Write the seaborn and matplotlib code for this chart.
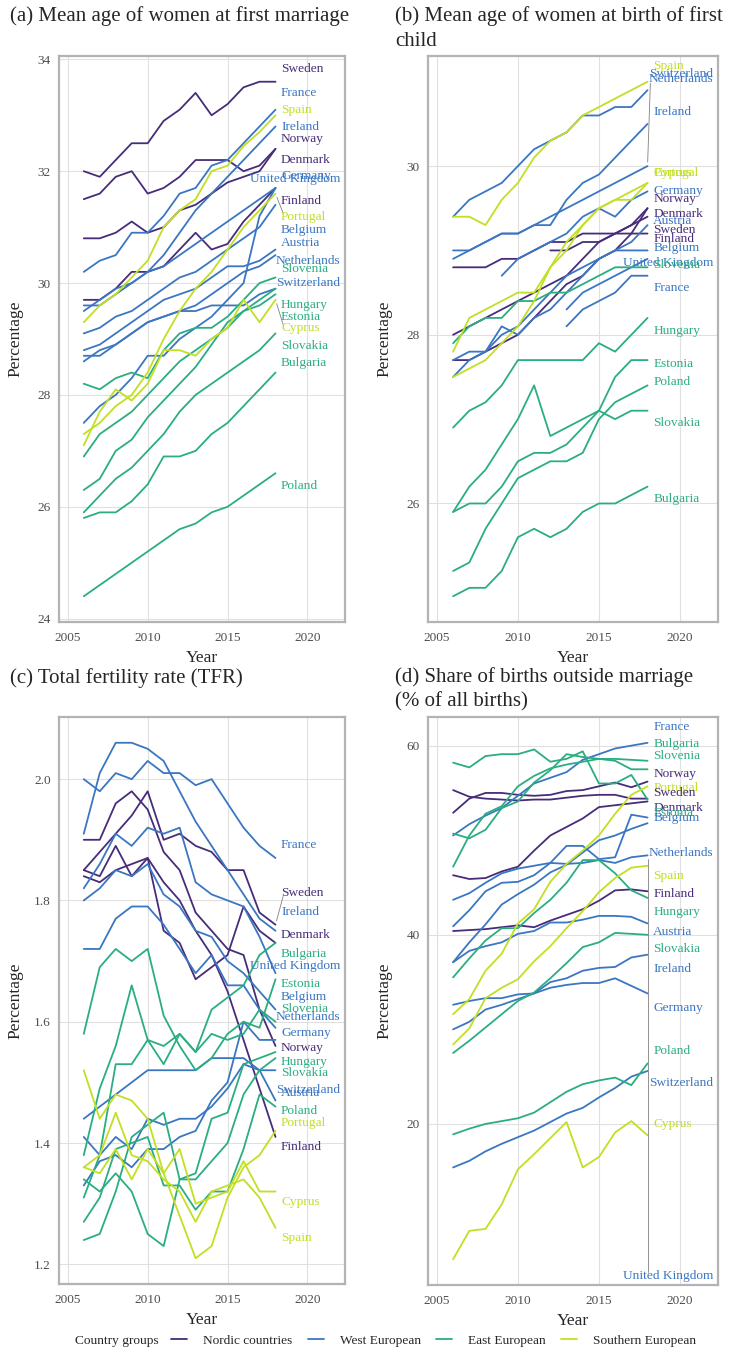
import numpy as np
import pandas as pd
import matplotlib
matplotlib.use("Agg")
import matplotlib.pyplot as plt
import seaborn as sns
from matplotlib.lines import Line2D

# ---------------- data ----------------
years = list(range(2006, 2019))
nan = np.nan

nordic = ["Sweden", "Norway", "Denmark", "Finland"]
west = ["France", "Ireland", "Germany", "United Kingdom", "Belgium", "Austria", "Netherlands", "Switzerland"]
east = ["Slovenia", "Hungary", "Estonia", "Slovakia", "Bulgaria", "Poland"]
south = ["Spain", "Portugal", "Cyprus"]
group_names = ["Nordic countries", "West European", "East European", "Southern European"]
group_colors = ["#472c7a", "#3a76c2", "#2aae80", "#c2df23"]

marriage_age = {
    "Sweden": [32.0, 31.9, 32.2, 32.5, 32.5, 32.9, 33.1, 33.4, 33.0, 33.2, 33.5, 33.6, 33.6],
    "Norway": [30.8, 30.8, 30.9, 31.1, 30.9, 31.0, 31.3, 31.4, 31.6, 31.8, 31.9, 32.0, 32.4],
    "Denmark": [31.5, 31.6, 31.9, 32.0, 31.6, 31.7, 31.9, 32.2, 32.2, 32.2, 32.0, 32.1, 32.4],
    "Finland": [29.7, 29.7, 29.9, 30.2, 30.2, 30.3, 30.6, 30.9, 30.6, 30.7, 31.1, 31.4, 31.7],
    "France": [30.2, 30.4, 30.5, 30.9, 30.9, 31.2, 31.6, 31.7, 32.1, 32.2, 32.5, 32.8, 33.1],
    "Ireland": [29.5, 29.7, 29.9, 30.0, 30.2, 30.5, 30.9, 31.3, 31.6, 31.9, 32.2, 32.5, 32.8],
    "Germany": [29.6, 29.6, 29.8, 30.0, 30.2, 30.3, 30.5, 30.7, 30.9, 31.1, 31.3, 31.5, 31.7],
    "United Kingdom": [27.5, 27.8, 28.0, 28.3, 28.7, 28.7, 29.0, 29.2, 29.4, 29.7, 30.0, 31.2, 31.7],
    "Belgium": [29.1, 29.2, 29.4, 29.5, 29.7, 29.9, 30.1, 30.2, 30.4, 30.6, 30.8, 31.0, 31.4],
    "Austria": [28.8, 28.9, 29.1, 29.3, 29.5, 29.7, 29.8, 29.9, 30.1, 30.3, 30.3, 30.4, 30.6],
    "Netherlands": [28.6, 28.8, 28.9, 29.1, 29.3, 29.4, 29.5, 29.6, 29.8, 30.0, 30.2, 30.3, 30.5],
    "Switzerland": [28.7, 28.7, 28.9, 29.1, 29.3, 29.4, 29.5, 29.5, 29.6, 29.6, 29.6, 29.8, 29.9],
    "Spain": [29.3, 29.6, 29.8, 30.1, 30.4, 31.0, 31.3, 31.5, 32.0, 32.1, 32.45, 32.7, 33.0],
    "Portugal": [27.3, 27.5, 27.8, 28.0, 28.4, 29.0, 29.5, 29.9, 30.2, 30.6, 31.0, 31.3, 31.6],
    "Cyprus": [27.1, 27.7, 28.1, 27.9, 28.2, 28.8, 28.8, 28.7, 29.0, 29.2, 29.7, 29.3, 29.7],
    "Slovenia": [28.2, 28.1, 28.3, 28.4, 28.3, 28.8, 29.1, 29.2, 29.2, 29.4, 29.7, 30.0, 30.1],
    "Hungary": [26.9, 27.3, 27.5, 27.7, 28.0, 28.3, 28.6, 28.8, 29.0, 29.2, 29.5, 29.7, 29.9],
    "Estonia": [26.3, 26.5, 27.0, 27.2, 27.6, 27.9, 28.2, 28.5, 28.9, 29.3, 29.5, 29.6, 29.8],
    "Slovakia": [25.9, 26.2, 26.5, 26.7, 27.0, 27.3, 27.7, 28.0, 28.2, 28.4, 28.6, 28.8, 29.1],
    "Bulgaria": [25.8, 25.9, 25.9, 26.1, 26.4, 26.9, 26.9, 27.0, 27.3, 27.5, 27.8, 28.1, 28.4],
    "Poland": [24.4, 24.6, 24.8, 25.0, 25.2, 25.4, 25.6, 25.7, 25.9, 26.0, 26.2, 26.4, 26.6],
}

birth_age = {
    "Sweden": [28.8, 28.8, 28.8, 28.9, 28.9, 29.0, 29.1, 29.1, 29.2, 29.2, 29.2, 29.3, 29.4],
    "Norway": [27.7, 27.7, 27.8, 27.9, 28.0, 28.2, 28.4, 28.6, 28.7, 28.9, 29.0, 29.2, 29.5],
    "Denmark": [28.0, 28.1, 28.2, 28.3, 28.4, 28.5, 28.6, 28.7, 28.9, 29.1, 29.2, 29.3, 29.5],
    "Finland": [nan, nan, nan, nan, nan, nan, 29.0, 29.0, 29.1, 29.1, 29.2, 29.2, 29.2],
    "France": [nan, nan, nan, nan, nan, nan, nan, 28.1, 28.3, 28.4, 28.5, 28.7, 28.7],
    "Ireland": [29.0, 29.0, 29.1, 29.2, 29.2, 29.3, 29.3, 29.6, 29.8, 29.9, 30.1, 30.3, 30.5],
    "Germany": [nan, nan, nan, 28.7, 28.9, 29.0, 29.1, 29.2, 29.4, 29.5, 29.4, 29.6, 29.7],
    "United Kingdom": [nan, nan, nan, nan, nan, nan, nan, 28.3, 28.5, 28.6, 28.7, 28.8, 28.9],
    "Belgium": [27.5, 27.7, 27.8, 28.0, 28.1, 28.3, 28.5, 28.7, 28.8, 28.9, 29.0, 29.0, 29.0],
    "Austria": [27.7, 27.8, 27.8, 28.1, 28.0, 28.2, 28.3, 28.5, 28.7, 28.9, 29.0, 29.1, 29.3],
    "Netherlands": [28.9, 29.0, 29.1, 29.2, 29.2, 29.3, 29.4, 29.5, 29.6, 29.7, 29.8, 29.9, 30.0],
    "Switzerland": [29.4, 29.6, 29.7, 29.8, 30.0, 30.2, 30.3, 30.4, 30.6, 30.6, 30.7, 30.7, 30.9],
    "Spain": [29.4, 29.4, 29.3, 29.6, 29.8, 30.1, 30.3, 30.4, 30.6, 30.7, 30.8, 30.9, 31.0],
    "Portugal": [27.8, 28.2, 28.3, 28.4, 28.5, 28.5, 28.8, 29.0, 29.3, 29.5, 29.6, 29.6, 29.8],
    "Cyprus": [27.5, 27.6, 27.7, 27.9, 28.1, 28.4, 28.8, 29.1, 29.3, 29.5, 29.6, 29.7, 29.8],
    "Slovenia": [27.9, 28.1, 28.2, 28.2, 28.4, 28.4, 28.5, 28.5, 28.6, 28.7, 28.8, 28.8, 28.8],
    "Hungary": [26.9, 27.1, 27.2, 27.4, 27.7, 27.7, 27.7, 27.7, 27.7, 27.9, 27.8, 28.0, 28.2],
    "Estonia": [25.9, 26.0, 26.0, 26.2, 26.5, 26.6, 26.6, 26.7, 26.9, 27.1, 27.5, 27.7, 27.7],
    "Slovakia": [25.9, 26.2, 26.4, 26.7, 27.0, 27.4, 26.8, 26.9, 27.0, 27.1, 27.0, 27.1, 27.1],
    "Bulgaria": [24.9, 25.0, 25.0, 25.2, 25.6, 25.7, 25.6, 25.7, 25.9, 26.0, 26.0, 26.1, 26.2],
    "Poland": [25.2, 25.3, 25.7, 26.0, 26.3, 26.4, 26.5, 26.5, 26.6, 27.0, 27.2, 27.3, 27.4],
}

tfr = {
    "Sweden": [1.85, 1.88, 1.91, 1.94, 1.98, 1.90, 1.91, 1.89, 1.88, 1.85, 1.85, 1.78, 1.76],
    "Norway": [1.90, 1.90, 1.96, 1.98, 1.95, 1.88, 1.85, 1.78, 1.75, 1.72, 1.71, 1.62, 1.56],
    "Denmark": [1.85, 1.84, 1.89, 1.84, 1.87, 1.75, 1.73, 1.67, 1.69, 1.71, 1.79, 1.75, 1.73],
    "Finland": [1.84, 1.83, 1.85, 1.86, 1.87, 1.83, 1.80, 1.75, 1.71, 1.65, 1.57, 1.49, 1.41],
    "France": [2.00, 1.98, 2.01, 2.00, 2.03, 2.01, 2.01, 1.99, 2.00, 1.96, 1.92, 1.89, 1.87],
    "Ireland": [1.91, 2.01, 2.06, 2.06, 2.05, 2.03, 1.98, 1.93, 1.89, 1.85, 1.81, 1.77, 1.75],
    "United Kingdom": [1.82, 1.86, 1.91, 1.89, 1.92, 1.91, 1.92, 1.83, 1.81, 1.80, 1.79, 1.74, 1.68],
    "Belgium": [1.80, 1.82, 1.85, 1.84, 1.86, 1.81, 1.79, 1.75, 1.74, 1.70, 1.68, 1.65, 1.62],
    "Netherlands": [1.72, 1.72, 1.77, 1.79, 1.79, 1.76, 1.72, 1.68, 1.71, 1.66, 1.66, 1.62, 1.59],
    "Germany": [1.33, 1.37, 1.38, 1.36, 1.39, 1.39, 1.41, 1.42, 1.47, 1.50, 1.60, 1.57, 1.57],
    "Austria": [1.41, 1.38, 1.41, 1.39, 1.44, 1.43, 1.44, 1.44, 1.46, 1.49, 1.53, 1.52, 1.47],
    "Switzerland": [1.44, 1.46, 1.48, 1.50, 1.52, 1.52, 1.52, 1.52, 1.54, 1.54, 1.54, 1.52, 1.52],
    "Bulgaria": [1.38, 1.49, 1.56, 1.66, 1.57, 1.53, 1.58, 1.55, 1.62, 1.64, 1.66, 1.71, 1.73],
    "Estonia": [1.58, 1.69, 1.72, 1.70, 1.72, 1.61, 1.56, 1.52, 1.54, 1.58, 1.60, 1.59, 1.67],
    "Slovenia": [1.31, 1.38, 1.53, 1.53, 1.57, 1.56, 1.58, 1.55, 1.58, 1.57, 1.58, 1.62, 1.60],
    "Hungary": [1.34, 1.32, 1.35, 1.32, 1.25, 1.23, 1.34, 1.35, 1.44, 1.45, 1.53, 1.54, 1.55],
    "Slovakia": [1.24, 1.25, 1.32, 1.41, 1.43, 1.45, 1.34, 1.34, 1.37, 1.40, 1.48, 1.52, 1.54],
    "Poland": [1.27, 1.31, 1.39, 1.40, 1.41, 1.33, 1.33, 1.29, 1.32, 1.32, 1.39, 1.48, 1.46],
    "Spain": [1.36, 1.38, 1.45, 1.38, 1.37, 1.34, 1.32, 1.27, 1.32, 1.33, 1.34, 1.31, 1.26],
    "Portugal": [1.36, 1.35, 1.39, 1.34, 1.39, 1.35, 1.28, 1.21, 1.23, 1.31, 1.36, 1.38, 1.42],
    "Cyprus": [1.52, 1.44, 1.48, 1.47, 1.44, 1.35, 1.39, 1.30, 1.31, 1.32, 1.37, 1.32, 1.32],
}

outside_births = {
    "Sweden": [55.3, 54.6, 54.4, 54.3, 54.2, 54.3, 54.3, 54.5, 54.7, 54.8, 54.8, 54.4, 54.4],
    "Norway": [52.9, 54.4, 55.0, 55.0, 54.8, 54.7, 54.8, 55.2, 55.3, 55.7, 56.1, 55.6, 56.2],
    "Denmark": [46.3, 45.9, 46.0, 46.7, 47.2, 48.9, 50.5, 51.4, 52.3, 53.5, 53.7, 53.9, 54.1],
    "Finland": [40.4, 40.5, 40.6, 40.8, 41.0, 40.8, 41.5, 42.1, 42.7, 43.6, 44.7, 44.8, 44.6],
    "France": [50.5, 51.7, 52.6, 53.4, 54.7, 56.0, 56.6, 57.2, 58.5, 59.1, 59.7, 60.0, 60.3],
    "Belgium": [40.9, 42.6, 44.6, 45.5, 45.6, 46.3, 47.6, 49.4, 49.4, 48.0, 48.2, 52.7, 52.4],
    "Netherlands": [37.1, 39.2, 41.1, 43.2, 44.3, 45.3, 46.6, 47.4, 48.7, 50.0, 50.5, 51.2, 51.8],
    "United Kingdom": [43.7, 44.4, 45.5, 46.5, 47.0, 47.3, 47.6, 47.5, 47.6, 47.9, 47.6, 48.2, 48.4],
    "Germany": [30.0, 30.8, 32.1, 32.6, 33.2, 33.8, 34.4, 34.7, 34.9, 34.9, 35.4, 34.6, 33.8],
    "Ireland": [32.6, 33.0, 33.3, 33.3, 33.7, 33.8, 35.0, 35.4, 36.2, 36.5, 36.6, 37.6, 37.9],
    "Austria": [37.1, 38.3, 38.8, 39.2, 40.1, 40.4, 41.3, 41.3, 41.6, 42.0, 42.0, 41.9, 41.2],
    "Switzerland": [15.4, 16.1, 17.1, 17.9, 18.6, 19.3, 20.2, 21.1, 21.7, 22.8, 23.8, 25.0, 25.6],
    "Bulgaria": [50.7, 50.2, 51.1, 53.4, 54.1, 56.1, 57.4, 59.1, 58.8, 58.6, 58.6, 58.5, 58.4],
    "Estonia": [58.2, 57.7, 58.9, 59.1, 59.1, 59.6, 58.3, 58.6, 59.4, 56.0, 56.0, 56.9, 54.3],
    "Slovenia": [47.2, 50.5, 52.8, 53.6, 55.7, 56.8, 57.6, 58.0, 58.3, 58.6, 58.4, 57.5, 57.5],
    "Hungary": [35.5, 37.5, 39.4, 40.7, 40.7, 42.3, 43.7, 45.5, 47.9, 47.9, 46.5, 44.7, 43.9],
    "Slovakia": [27.5, 28.8, 30.2, 31.6, 33.0, 33.9, 35.4, 37.0, 38.7, 39.2, 40.2, 40.1, 40.0],
    "Poland": [18.9, 19.5, 20.0, 20.3, 20.6, 21.2, 22.3, 23.4, 24.2, 24.6, 24.9, 24.1, 26.4],
    "Spain": [28.4, 30.1, 33.3, 34.4, 35.3, 37.2, 38.8, 40.7, 42.5, 44.5, 46.0, 47.1, 47.3],
    "Portugal": [31.6, 33.2, 36.2, 38.0, 41.2, 42.7, 45.6, 47.5, 48.9, 50.5, 52.8, 54.8, 55.7],
    "Cyprus": [5.7, 8.7, 8.9, 11.5, 15.2, 16.8, 18.5, 20.2, 15.4, 16.5, 19.1, 20.3, 18.8],
}

panel_titles = [
    ["(a) Mean age of women at first marriage"],
    ["(b) Mean age of women at birth of first", "child"],
    ["(c) Total fertility rate (TFR)"],
    ["(d) Share of births outside marriage", "(% of all births)"],
]
y_ticks = [[24, 26, 28, 30, 32, 34], [26, 28, 30], [1.2, 1.4, 1.6, 1.8, 2.0], [20, 40, 60]]
y_ticklabels = [["24", "26", "28", "30", "32", "34"], ["26", "28", "30"],
                ["1.2", "1.4", "1.6", "1.8", "2.0"], ["20", "40", "60"]]
x_ticks = [2005, 2010, 2015, 2020]

# label positions (layout) for the end-of-line country labels
label_pos = [
    {"Sweden": 33.83, "France": 33.39, "Spain": 33.09, "Ireland": 32.79, "Norway": 32.57,
     "Denmark": 32.2, "Germany": 31.92, "United Kingdom": 31.86, "Finland": 31.47,
     "Portugal": 31.18, "Belgium": 30.95, "Austria": 30.71, "Netherlands": 30.39,
     "Slovenia": 30.26, "Switzerland": 30.01, "Hungary": 29.61, "Estonia": 29.4,
     "Cyprus": 29.19, "Slovakia": 28.88, "Bulgaria": 28.57, "Poland": 26.38},
    {"Spain": 31.19, "Switzerland": 31.09, "Netherlands": 31.03, "Ireland": 30.64,
     "Portugal": 29.92, "Cyprus": 29.92, "Germany": 29.71, "Norway": 29.61, "Denmark": 29.43,
     "Austria": 29.35, "Sweden": 29.24, "Finland": 29.14, "Belgium": 29.03,
     "United Kingdom": 28.85, "Slovenia": 28.83, "France": 28.55, "Hungary": 28.05,
     "Estonia": 27.65, "Poland": 27.44, "Slovakia": 26.95, "Bulgaria": 26.05},
    {"France": 1.891, "Sweden": 1.813, "Ireland": 1.781, "Denmark": 1.743, "Bulgaria": 1.711,
     "United Kingdom": 1.692, "Estonia": 1.662, "Belgium": 1.641, "Slovenia": 1.621,
     "Netherlands": 1.608, "Germany": 1.582, "Norway": 1.557, "Hungary": 1.533,
     "Slovakia": 1.516, "Switzerland": 1.488, "Austria": 1.482, "Poland": 1.453,
     "Portugal": 1.433, "Finland": 1.394, "Cyprus": 1.303, "Spain": 1.243},
    {"France": 62.0, "Bulgaria": 60.2, "Slovenia": 58.9, "Norway": 57.0, "Portugal": 55.5,
     "Sweden": 55.0, "Denmark": 53.4, "Estonia": 52.9, "Belgium": 52.3, "Netherlands": 48.6,
     "Spain": 46.2, "Finland": 44.3, "Hungary": 42.4, "Austria": 40.3, "Slovakia": 38.5,
     "Ireland": 36.4, "Germany": 32.3, "Poland": 27.7, "Switzerland": 24.3, "Cyprus": 20.0,
     "United Kingdom": 3.9},
]
leaders = [["Portugal", "Cyprus"], ["Netherlands"], ["Sweden"], ["United Kingdom"]]

# ---------------- long table ----------------
group_of = {}
for g, cs in zip(group_names, [nordic, west, east, south]):
    for c in cs:
        group_of[c] = g
pal = dict(zip(group_names, group_colors))
color_of = {c: pal[group_of[c]] for c in group_of}

metrics = [marriage_age, birth_age, tfr, outside_births]
frames = []
for i, d in enumerate(metrics):
    for c, vals in d.items():
        frames.append(pd.DataFrame({"panel": i, "country": c, "group": group_of[c],
                                    "year": years, "value": vals}))
df = pd.concat(frames, ignore_index=True).dropna()

# ---------------- figure ----------------
sns.set_style("whitegrid")
plt.rcParams["font.family"] = ["Liberation Serif", "DejaVu Serif"]

W, H = 735, 1351
fig = plt.figure(figsize=(W / 100, H / 100), dpi=100)

boxes = [(59, 345, 56, 622), (428, 718, 56, 622), (59, 345, 717, 1284), (428, 718, 717, 1285)]
title_xy = [(10, 16), (395, 16), (10, 678), (395, 677)]
axes = []
for i, (l, r, t, b) in enumerate(boxes):
    ax = fig.add_axes([l / W, 1 - b / H, (r - l) / W, (b - t) / H])
    axes.append(ax)
    sub = df[df.panel == i]
    sns.lineplot(data=sub, x="year", y="value", hue="group", units="country",
                 estimator=None, palette=pal, hue_order=group_names, legend=False,
                 ax=ax, linewidth=1.3, sort=True)
    vmin, vmax = sub.value.min(), sub.value.max()
    rng = vmax - vmin
    ax.set_ylim(vmin - 0.05 * rng, vmax + 0.05 * rng)
    ax.set_xlim(2004.45, 2022.35)
    ax.set_xticks(x_ticks)
    ax.set_xticklabels([str(x) for x in x_ticks])
    ax.set_yticks(y_ticks[i])
    ax.set_yticklabels(y_ticklabels[i])
    ax.minorticks_off()
    ax.grid(True, which="major", color="#e0e0e0", linewidth=0.8)
    ax.set_axisbelow(True)
    for sp in ax.spines.values():
        sp.set_visible(True)
        sp.set_color("#b3b3b3")
        sp.set_linewidth(1.6)
    ax.tick_params(axis="both", which="major", length=3, width=0.8, color="#b3b3b3",
                   labelsize=9.5, labelcolor="#4d4d4d", pad=3, direction="out")
    ax.tick_params(axis="x", pad=4)
    ax.set_xlabel("")
    ax.set_ylabel("")
    # axis titles
    fig.text((l + r) / 2 / W, 1 - (b + 36) / H, "Year", ha="center", va="center", fontsize=12.5)
    fig.text((l - 44) / W, 1 - (t + b) / 2 / H, "Percentage", ha="center", va="center",
             rotation=90, fontsize=12.5)
    tx, ty = title_xy[i]
    for k, line in enumerate(panel_titles[i]):
        fig.text(tx / W, 1 - (ty + 25 * k) / H, line, ha="left", va="center", fontsize=15)

fig.canvas.draw()
renderer = fig.canvas.get_renderer()

for i, ax in enumerate(axes):
    sub = df[df.panel == i]
    texts = {}
    for c, ly in label_pos[i].items():
        texts[c] = ax.text(2018.35, ly, c, color=color_of[c], fontsize=9.6,
                           ha="left", va="center")
    fig.canvas.draw()
    axbb = ax.get_window_extent(renderer)
    for c, t in texts.items():
        bb = t.get_window_extent(renderer)
        over = bb.x1 - (axbb.x1 - 5)
        if over > 0:
            xd, yd = ax.transData.transform((2018.35, label_pos[i][c]))
            nx, _ = ax.transData.inverted().transform((xd - over, yd))
            t.set_x(nx)
    fig.canvas.draw()
    for c in leaders[i]:
        s = sub[sub.country == c]
        ex, ey = s.year.iloc[-1], s.value.iloc[-1]
        px, py = ax.transData.transform((ex, ey))
        bb = texts[c].get_window_extent(renderer)
        qx = min(max(px, bb.x0 + 2), bb.x1)
        qy = min(max(py, bb.y0 + 2), bb.y1 - 2)
        v = np.array([qx - px, qy - py])
        n = np.hypot(*v)
        p0 = np.array([px, py]) + v / n * 4
        p1 = np.array([qx, qy])
        d0 = ax.transData.inverted().transform(p0)
        d1 = ax.transData.inverted().transform(p1)
        ax.add_line(Line2D([d0[0], d1[0]], [d0[1], d1[1]], color="#808080", lw=0.6))

# legend
fig.text(75 / W, 1 - 1341 / H, "Country groups", ha="left", va="center", fontsize=9.6)
handles = [Line2D([0], [0], color=col, lw=1.3) for col in group_colors]
fig.legend(handles, group_names, loc="center left", bbox_to_anchor=(171 / W, 1 - 1341 / H),
           ncol=4, frameon=False, fontsize=9.6, handlelength=1.2, handletextpad=1.2,
           columnspacing=1.15, borderpad=0, borderaxespad=0)

fig.savefig("out.png", dpi=100)
